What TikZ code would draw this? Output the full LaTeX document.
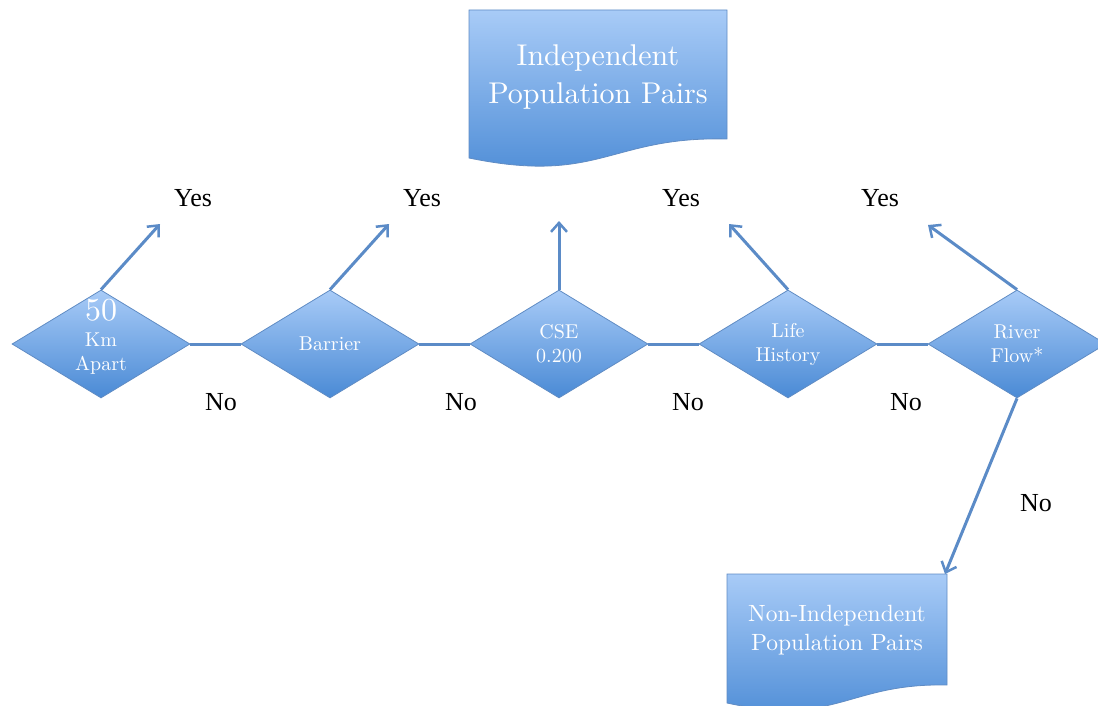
\documentclass[tikz,border=0pt]{standalone}
\usepackage{fontspec}
\newfontfamily\timesfont{Liberation Serif}
\newfontfamily\boxfont{lmroman10-regular.otf}
\usetikzlibrary{shapes.geometric,arrows.meta}
\definecolor{boxtop}{RGB}{168,203,247}
\definecolor{boxbot}{RGB}{74,138,213}
\definecolor{boxedge}{RGB}{96,140,196}
\definecolor{linkc}{RGB}{91,139,199}
\tikzset{
  decision/.style={diamond, aspect=1.648, minimum width=178pt, minimum height=108pt, inner sep=0pt,
    draw=boxedge, line width=0.8pt, top color=boxtop, bottom color=boxbot, text=white,
    font=\boxfont\fontsize{20}{24}\selectfont, align=center},
  dtext/.style={text=white, align=center, font=\boxfont\fontsize{20}{24}\selectfont},
  doc/.style={draw=boxedge, line width=0.8pt, top color=boxtop, bottom color=boxbot},
  doctext/.style={text=white, align=center},
  link/.style={draw=linkc, line width=3pt},
  arr/.style={link, -{Straight Barb[length=9pt,width=16pt,line width=2.5pt]}},
  lab/.style={font=\timesfont\fontsize{26}{30}\selectfont, anchor=base}
}
\begin{document}
\begin{tikzpicture}[x=1pt,y=-1pt]
\useasboundingbox (0,0) rectangle (1098,706);
% top document
\path[doc] (469,10) -- (727,10) -- (727,139) .. controls (610,136) and (600,185) .. (469,158) -- cycle;
\node[doctext, font=\boxfont\fontsize{30}{38}\selectfont] (indep) at (598,77) {Independent\\Population Pairs};
% bottom document
\path[doc] (727,574) -- (947,574) -- (947,685) .. controls (847,683) and (837,727) .. (727,703) -- cycle;
\node[doctext, font=\boxfont\fontsize{23.5}{29}\selectfont] (nonindep) at (837,630) {Non-Independent\\Population Pairs};
\coordinate (ndtr) at (945,574);
% decisions
\node[decision] (d1) at (101,344) {};
\node[dtext] (d1t) at (101,337) {{\fontsize{32}{32}\selectfont 50}\\[2pt]Km\\Apart};
\node[decision] (d2) at (330,344) {Barrier};
\node[decision] (d3) at (559,344) {CSE\\0.200};
\node[decision] (d4) at (788,344) {Life\\History};
\node[decision] (d5) at (1017,344) {River\\Flow*};
% connectors
\draw[link] (d1.east) -- (d2.west);
\draw[link] (d2.east) -- (d3.west);
\draw[link] (d3.east) -- (d4.west);
\draw[link] (d4.east) -- (d5.west);
\coordinate (y1) at (160,224);
\coordinate (y2) at (389,224);
\coordinate (y3) at (559,221);
\coordinate (y4) at (729,224);
\coordinate (y5) at (928,225);
\draw[arr] (d1.north) -- (y1);
\draw[arr] (d2.north) -- (y2);
\draw[arr] (d3.north) -- (y3);
\draw[arr] (d4.north) -- (y4);
\draw[arr] (d5.north) -- (y5);
\draw[arr] (d5.south) -- (ndtr);
% labels
\node[lab] (yes1) at (193,207) {Yes};
\node[lab] (yes2) at (422,207) {Yes};
\node[lab] (yes3) at (681,207) {Yes};
\node[lab] (yes4) at (880,207) {Yes};
\node[lab] (no1) at (221,410) {No};
\node[lab] (no2) at (461,410) {No};
\node[lab] (no3) at (688,410) {No};
\node[lab] (no4) at (906,410) {No};
\node[lab] (no5) at (1036,511) {No};
\end{tikzpicture}
\end{document}
